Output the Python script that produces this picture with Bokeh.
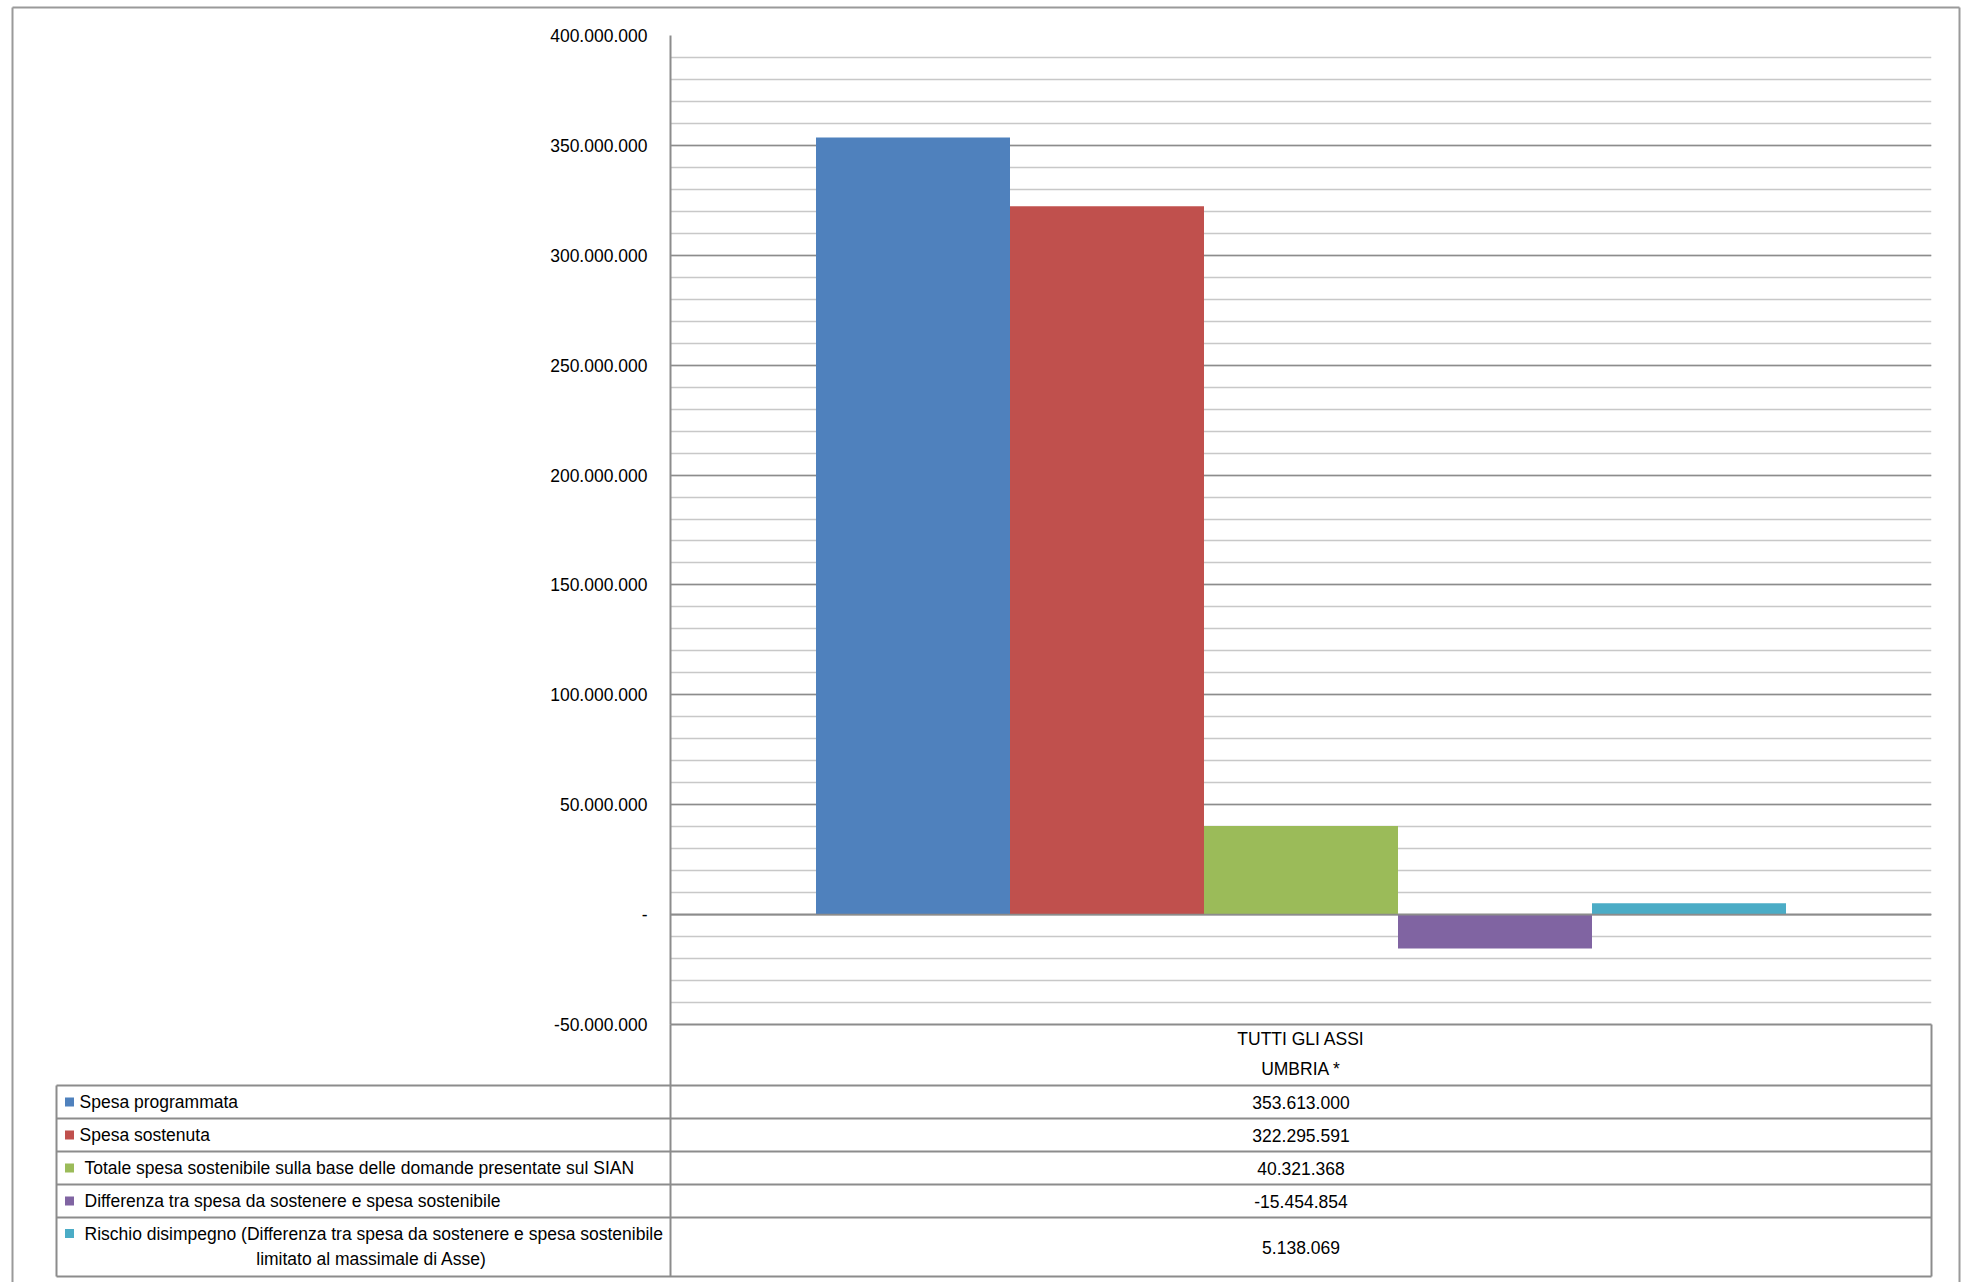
import numpy as np
from bokeh.plotting import figure
from bokeh.models import Range1d, SingleIntervalTicker, CustomJSTickFormatter, ColumnDataSource, Span
from bokeh.embed import file_html
from bokeh.resources import INLINE
from bokeh.core.properties import value

# ---------------- data ----------------
category = "TUTTI GLI ASSI"
region = "UMBRIA *"
series = [
    "Spesa programmata",
    "Spesa sostenuta",
    " Totale spesa sostenibile sulla base delle domande presentate sul SIAN",
    " Differenza tra spesa da sostenere e spesa sostenibile",
    " Rischio disimpegno (Differenza tra spesa da sostenere e spesa sostenibile\nlimitato al massimale di Asse)",
]
values = [353613000, 322295591, 40321368, -15454854, 5138069]
colors = ["#4F81BD", "#C0504D", "#9BBB59", "#8064A2", "#4BACC6"]
y_min, y_max = -50_000_000, 400_000_000
y_major = 50_000_000
y_minor_count = 5

# ---------------- style ----------------
FONT = "Liberation Sans"
FS = "17.5px"
GRID_MAJOR = "#8c8c8c"
GRID_MINOR = "#c8c8c8"
LINE = "#8c8c8c"

W, H = 1964, 1282
FRAME_L, FRAME_R, FRAME_T, FRAME_B = 670, 1931, 35, 1024

def fmt(v):
    s = f"{abs(int(v)):,}".replace(",", ".")
    return ("-" if v < 0 else "") + s

# ---------------- chart ----------------
n = len(values)
gap = 1.5                     # total gap around the group, in bar widths
x_centers = gap / 2 + 0.5 + np.arange(n)
src = ColumnDataSource(dict(x=x_centers, top=values, color=colors, name=series))

p = figure(width=W, height=H, output_backend="svg", toolbar_location=None,
           x_range=Range1d(0, n + gap), y_range=Range1d(y_min, y_max),
           x_axis_location=None, min_border_left=FRAME_L, min_border_right=W - FRAME_R,
           min_border_top=FRAME_T, min_border_bottom=H - FRAME_B)
p.outline_line_color = None
p.background_fill_color = "white"
p.border_fill_color = "white"
p.xgrid.visible = False

tick = SingleIntervalTicker(interval=y_major, num_minor_ticks=y_minor_count)
p.yaxis.ticker = tick
p.ygrid.ticker = tick
p.ygrid.grid_line_color = GRID_MAJOR
p.ygrid.grid_line_width = 1.6
p.ygrid.minor_grid_line_color = GRID_MINOR
p.ygrid.minor_grid_line_width = 1.6

p.yaxis.formatter = CustomJSTickFormatter(code="""
    if (Math.abs(tick) < 1) return "-";
    const s = Math.round(Math.abs(tick)).toString().replace(/\\B(?=(\\d{3})+(?!\\d))/g, ".");
    return (tick < 0 ? "-" : "") + s;
""")
p.yaxis.major_tick_out = 0
p.yaxis.major_tick_in = 0
p.yaxis.minor_tick_out = 0
p.yaxis.minor_tick_in = 0
p.yaxis.axis_line_color = LINE
p.yaxis.axis_line_width = 2
p.yaxis.major_label_text_font = FONT
p.yaxis.major_label_text_font_size = FS
p.yaxis.major_label_text_color = "black"
p.yaxis.major_label_standoff = 23

p.vbar(x="x", top="top", bottom=0, width=1.0, color="color", source=src, line_color=None)
p.add_layout(Span(location=0, dimension="width", line_color=GRID_MAJOR, line_width=1.6))

# ---------------- data table (transparent overlay, pixel coordinates) ----------------
t = figure(width=W, height=H, output_backend="svg", toolbar_location=None,
           x_range=Range1d(0, W), y_range=Range1d(H, 0),
           x_axis_location=None, y_axis_location=None, min_border=0,
           styles={"position": "absolute", "top": "0px", "left": "0px"})
t.outline_line_color = None
t.grid.visible = False
t.background_fill_color = None
t.border_fill_color = None

left_x, div_x, right_x = 56, FRAME_L, FRAME_R
header_h, row_h, last_h = 61, 33, 59
top = FRAME_B
bounds = [top + header_h]
for i in range(n):
    h = last_h if "\n" in series[i] else row_h
    bounds.append(bounds[-1] + h)

# outer chart-area border
t.segment(x0=[12, 12, 1959], y0=[7, 7, 7], x1=[1959, 12, 1959], y1=[7, H, H],
          line_color="#9a9a9a", line_width=2)

# horizontal table lines
hx0 = [div_x] + [left_x] * len(bounds)
hx1 = [right_x] * (len(bounds) + 1)
hy = [top] + bounds
t.segment(x0=hx0, y0=hy, x1=hx1, y1=hy, line_color=LINE, line_width=2)
# vertical table lines
t.segment(x0=[left_x, div_x, right_x], y0=[bounds[0], top, top],
          x1=[left_x, div_x, right_x], y1=[bounds[-1]] * 3, line_color=LINE, line_width=2)

cx = (div_x + right_x) / 2
t.text(x=[cx, cx], y=[top + 14, top + 44], text=[category, region],
       text_align="center", text_baseline="middle", text_font=value(FONT),
       text_font_size=FS, text_color="black")

key_x, key_size = 69, 9
for i in range(n):
    y0, y1 = bounds[i], bounds[i + 1]
    mid = (y0 + y1) / 2
    t.text(x=[cx], y=[mid], text=[fmt(values[i])], text_align="center", text_baseline="middle",
           text_font=value(FONT), text_font_size=FS, text_color="black")
    label = series[i]
    lead = label.startswith(" ")
    lines = label.strip().split("\n")
    tx = 79 + (5 if lead else 0)
    if len(lines) == 1:
        ky = mid
        t.text(x=[tx], y=[mid], text=lines, text_align="left",
               text_baseline="middle", text_font=value(FONT), text_font_size=FS, text_color="black")
    else:
        ky = y0 + 16
        t.text(x=[tx], y=[ky], text=[lines[0]], text_align="left",
               text_baseline="middle", text_font=value(FONT), text_font_size=FS, text_color="black")
        cell_c = 371
        for j, ln in enumerate(lines[1:], start=1):
            t.text(x=[cell_c], y=[ky + 25 * j], text=[ln], text_align="center",
                   text_baseline="middle", text_font=value(FONT), text_font_size=FS, text_color="black")
    t.rect(x=[key_x], y=[ky], width=key_size, height=key_size, fill_color=colors[i], line_color=None)

open("out.html", "w").write(file_html([p, t], INLINE))
